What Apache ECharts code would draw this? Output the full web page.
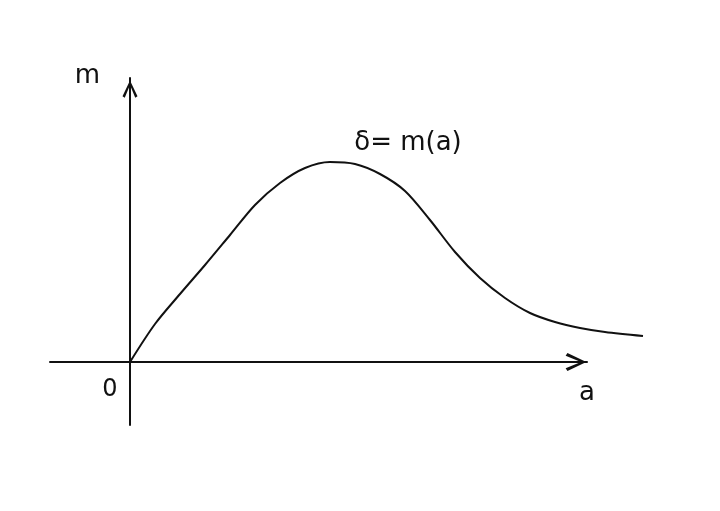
<!DOCTYPE html>
<html>
<head>
<meta charset="utf-8">
<script src="https://cdn.jsdelivr.net/npm/echarts@6/dist/echarts.min.js"></script>
<style>
  html, body { margin: 0; padding: 0; background: #fff; }
  #chart { width: 720px; height: 511px; }
</style>
</head>
<body>
<div id="chart"></div>
<script>
// curve (a, m)
var curveA = [0, 0.25, 0.5, 0.75, 1.0, 1.25, 1.5, 1.75, 2.0, 2.25, 2.5, 2.75, 3.0, 3.25, 3.5, 3.75, 4.0, 4.25, 4.5, 4.75, 5.13];
var curveM = [0, 0.38, 0.68, 0.97, 1.27, 1.57, 1.79, 1.94, 2.00, 1.98, 1.88, 1.71, 1.42, 1.10, 0.84, 0.64, 0.49, 0.40, 0.34, 0.30, 0.26];
var peakIndex = 8;
var curveLabel = 'δ= m(a)';
var originLabel = '0';
var xName = 'a';
var yName = 'm';

var ink = '#111';
var font = 'DejaVu Sans';
var arrow = 'path://M10,0 L20,21 L17,23 L10,6 L3,23 L0,21 Z';

var data = curveA.map(function (a, i) {
  var item = { value: [a, curveM[i]] };
  if (i === peakIndex) {
    item.label = {
      show: true, position: 'top', formatter: curveLabel, offset: [78, 0],
      color: ink, fontFamily: font, fontSize: 26
    };
  } else if (i === 0) {
    item.label = {
      show: true, position: 'bottom', formatter: originLabel, offset: [-20, 10],
      color: ink, fontFamily: font, fontSize: 24
    };
  }
  return item;
});

var chart = echarts.init(document.getElementById('chart'));
chart.setOption({
  backgroundColor: '#fff',
  animation: false,
  grid: [
    { left: 50, right: 77, top: 78, bottom: 86 },   // curve
    { left: 50, right: 133, top: 78, bottom: 86 }   // drawn axes
  ],
  xAxis: [
    { gridIndex: 0, type: 'value', min: -0.8, max: 5.13, show: false },
    {
      gridIndex: 1, type: 'value', min: -0.8, max: 4.57,
      name: xName, nameLocation: 'end', nameGap: -8,
      nameTextStyle: { color: ink, fontFamily: font, fontSize: 26, verticalAlign: 'top', padding: [18, 0, 0, 0] },
      axisLine: {
        onZero: true, lineStyle: { color: ink, width: 2 },
        symbol: ['none', arrow], symbolSize: [18, 24], symbolOffset: [0, -11]
      },
      axisTick: { show: false }, axisLabel: { show: false }, splitLine: { show: false }
    }
  ],
  yAxis: [
    { gridIndex: 0, type: 'value', min: -0.63, max: 2.84, show: false },
    {
      gridIndex: 1, type: 'value', min: -0.63, max: 2.84,
      name: yName, nameLocation: 'end', nameGap: 2,
      nameTextStyle: { color: ink, fontFamily: font, fontSize: 26, align: 'right', verticalAlign: 'middle', padding: [0, 30, 0, 0] },
      axisLine: {
        onZero: true, lineStyle: { color: ink, width: 2 },
        symbol: ['none', arrow], symbolSize: [15, 24], symbolOffset: [0, -11]
      },
      axisTick: { show: false }, axisLabel: { show: false }, splitLine: { show: false }
    }
  ],
  series: [{
    type: 'line',
    xAxisIndex: 0,
    yAxisIndex: 0,
    data: data,
    smooth: 0.3,
    showSymbol: true,
    showAllSymbol: true,
    symbol: 'circle',
    symbolSize: 1,
    itemStyle: { color: 'rgba(0,0,0,0)', borderWidth: 0 },
    lineStyle: { color: ink, width: 2 }
  }]
});
</script>
</body>
</html>
